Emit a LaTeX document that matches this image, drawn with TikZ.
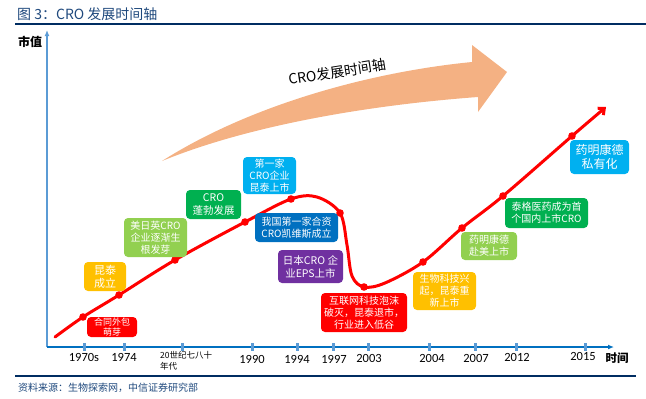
\documentclass[tikz,border=0pt]{standalone}
\usepackage{fontspec}
\setmainfont{Noto Sans CJK SC}
\newfontfamily\yearfont{Carlito}
\usepackage{tikz}
\usetikzlibrary{arrows.meta}
\usetikzlibrary{calc}
\definecolor{titleblue}{RGB}{31,73,125}
\definecolor{rulenavy}{RGB}{0,45,98}
\definecolor{axisblue}{RGB}{0,112,192}
\definecolor{paleblue}{RGB}{91,155,213}
\definecolor{arrowpeach}{RGB}{244,177,131}
\definecolor{evred}{RGB}{255,0,0}
\definecolor{evyellow}{RGB}{255,192,0}
\definecolor{evlime}{RGB}{146,208,80}
\definecolor{evgreen}{RGB}{0,176,80}
\definecolor{evsky}{RGB}{0,176,240}
\definecolor{evblue}{RGB}{0,112,192}
\definecolor{evpurple}{RGB}{112,48,160}
\newcommand{\boxtext}{\fontsize{10}{12}\selectfont}
\newcommand{\yeartext}{\yearfont\fontsize{12.5}{13}\selectfont}

\begin{document}
\begin{tikzpicture}[x=1pt, y=-1pt, every node/.style={inner sep=0pt},
	event/.style={rounded corners=4pt, text=white, align=center, font=\boxtext},
	tickmark/.style={fill=paleblue}]
	\useasboundingbox (0,0) rectangle (646,399);
	% The frame:
	\draw[rulenavy, line width=1.8pt] (15,24) -- (646,24);
	\draw[rulenavy, line width=1.8pt] (15,376) -- (636,376);
	\fill[titleblue]
		(17,14) node[right, font=\fontsize{14}{16}\selectfont] (title) {图 3：CRO 发展时间轴}
		(18,388) node[right, font=\fontsize{10}{12}\selectfont] (source) {资料来源：生物探索网，中信证券研究部};
	% Big arrow:
	\fill[arrowpeach] (162,161) .. controls (250,105) and (370,72) .. (472,62)
		-- (472,45) -- (507,72) -- (478,112) -- (478,97)
		.. controls (370,105) and (250,125) .. cycle;
	\node[rotate=9, font=\fontsize{14}{16}\selectfont] (arrowlabel) at (337,72) {CRO发展时间轴};
	% Axes:
	\coordinate (origin) at (47,347);
	\coordinate (ytop) at (47,30);
	\coordinate (xend) at (614,347);
	\draw[paleblue, line width=2pt, -{Latex[length=6pt,width=5pt]}] (origin) -- (ytop);
	\draw[axisblue, line width=2pt, -{Latex[length=6pt,width=5pt]}] (origin) -- (xend);
	\foreach \tx in {84,124,182,252,297,333,368,429,475,516,585}
		\fill[tickmark] (\tx-1.5,343) rectangle (\tx+1.5,351);
	\fill[black]
		(30,42) node[font=\bfseries\fontsize{12}{14}\selectfont] (ylabel) {市值}
		(617,358) node[font=\bfseries\fontsize{11.5}{13}\selectfont] (xlabel) {时间};
	% Years:
	\fill[black]
		(84,357) node[font=\yeartext] (t1970s) {1970s}
		(124,357) node[font=\yeartext] (t1974) {1974}
		(160,361) node[right, align=left, font=\fontsize{8.5}{11}\selectfont] (t1980s) {20世纪七八十\\年代}
		(252,359) node[font=\yeartext] (t1990) {1990}
		(297,359) node[font=\yeartext] (t1994) {1994}
		(334,359) node[font=\yeartext] (t1997) {1997}
		(369,358) node[font=\yeartext] (t2003) {2003}
		(432,358) node[font=\yeartext] (t2004) {2004}
		(476,358) node[font=\yeartext] (t2007) {2007}
		(517,357) node[font=\yeartext] (t2012) {2012}
		(583,356) node[font=\yeartext] (t2015) {2015};
	% Curve points:
	\coordinate (start) at (55,337);
	\coordinate (d1) at (83,317);
	\coordinate (d2) at (119,295);
	\coordinate (d3) at (175,260);
	\coordinate (d4) at (245,222);
	\coordinate (d5) at (291,199);
	\coordinate (peak) at (317,197);
	\coordinate (d6) at (340,213);
	\coordinate (drop) at (347,245);
	\coordinate (low) at (352,276);
	\coordinate (d7) at (364,287);
	\coordinate (rise) at (385,283);
	\coordinate (d8) at (423,262);
	\coordinate (d9) at (462,228);
	\coordinate (d10) at (503,196);
	\coordinate (d11) at (572,136);
	\coordinate (tip) at (606,107);
	\draw[evred, line width=3pt, line cap=round, -{Straight Barb[length=5pt,width=9pt]}]
		plot[smooth, tension=0.55] coordinates {(start) (d1) (d2) (d3) (d4) (d5) (peak) (d6) (drop) (low) (d7) (rise) (d8) (d9) (d10) (d11) (tip)};
	\foreach \d in {d1,d2,d3,d4,d5,d6,d7,d8,d9,d10,d11}
		\fill[evred] (\d) circle (3.8);
	% Events:
	\node[event, fill=evred, minimum width=50pt, minimum height=20pt, font=\fontsize{9}{10}\selectfont] (e1) at (112,327) {合同外包\\萌芽};
	\node[event, fill=evyellow, minimum width=42pt, minimum height=29pt, font=\fontsize{11}{13}\selectfont] (e2) at (105,276.5) {昆泰\\成立};
	\node[event, fill=evlime, minimum width=63pt, minimum height=39pt] (e3) at (155.5,237.5) {美日英CRO\\企业逐渐生\\根发芽};
	\node[event, fill=evgreen, minimum width=55pt, minimum height=29pt, font=\fontsize{10.5}{13}\selectfont] (e4) at (213.5,204.5) {CRO\\蓬勃发展};
	\node[event, fill=evsky, minimum width=53pt, minimum height=37pt] (e5) at (269.5,175.5) {第一家\\CRO企业\\昆泰上市};
	\node[event, fill=evblue, minimum width=83pt, minimum height=29pt] (e6) at (296.5,227.5) {我国第一家合资\\CRO凯维斯成立};
	\node[event, fill=evpurple, minimum width=65pt, minimum height=33pt, font=\fontsize{10.5}{13}\selectfont] (e7) at (310.5,266.5) {日本CRO 企\\业EPS上市};
	\node[event, fill=evred, minimum width=86pt, minimum height=39pt] (e8) at (364,312.5) {互联网科技泡沫\\破灭，昆泰退市，\\行业进入低谷};
	\node[event, fill=evyellow, minimum width=63pt, minimum height=38pt] (e9) at (444.5,291) {生物科技兴\\起，昆泰重\\新上市};
	\node[event, fill=evlime, minimum width=56pt, minimum height=28pt] (e10) at (489,246) {药明康德\\赴美上市};
	\node[event, fill=evgreen, minimum width=83pt, minimum height=30pt] (e11) at (546.5,213) {泰格医药成为首\\个国内上市CRO};
	\node[event, fill=evsky, minimum width=59pt, minimum height=34pt, font=\fontsize{12}{14}\selectfont] (e12) at (599.5,157) {药明康德\\私有化};
\end{tikzpicture}
\end{document}
